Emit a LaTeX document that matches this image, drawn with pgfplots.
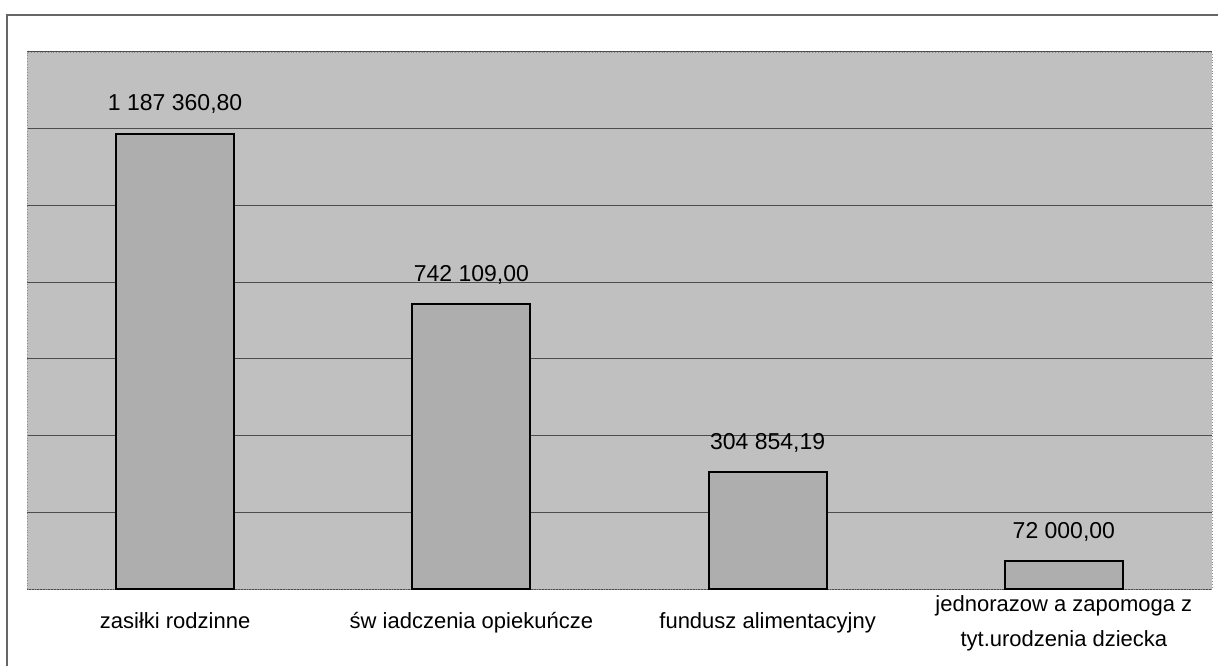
\documentclass[border=0pt]{standalone}
\usepackage{fontspec}
\setmainfont{Liberation Sans}
\usepackage{pgfplots}
\pgfplotsset{compat=1.18}
\definecolor{bg}{RGB}{192,192,192}
\definecolor{barc}{RGB}{174,174,174}
\newcommand{\ph}{\vphantom{śpjŚ}}
\begin{document}
\begin{tikzpicture}
\path[use as bounding box] (0,0) rectangle (609bp,333bp);
\draw[black!60, line width=0.6bp] (3.5bp,0) -- (3.5bp,325.5bp) -- (609bp,325.5bp);
\begin{axis}[
  at={(13.5bp,38.5bp)}, anchor=south west,
  scale only axis, width=592.5bp, height=268.5bp,
  xmin=-0.5, xmax=3.5, ymin=0, ymax=1400000,
  scaled y ticks=false,
  ytick={0,200000,400000,600000,800000,1000000,1200000,1400000},
  yticklabels={},
  ymajorgrids, grid style={black!70, line width=0.5bp},
  xtick={0,1,2,3},
  xticklabels={\ph zasiłki rodzinne, \ph św iadczenia opiekuńcze, \ph fundusz alimentacyjny, {\ph jednorazow a zapomoga z\\\ph tyt.urodzenia dziecka}},
  major tick length=0,
  axis background/.style={fill=bg},
  axis line style={draw=black!45, densely dotted},
  xticklabel style={font=\fontsize{11bp}{17.5bp}\selectfont, align=center, anchor=center, yshift=-16bp},
  clip=false,
]
\addplot[ybar, bar width=59bp, fill=barc, draw=black, line width=1bp,
  point meta=explicit symbolic, nodes near coords,
  nodes near coords style={font=\fontsize{11.5bp}{13bp}\selectfont, anchor=south, yshift=6bp, text=black}]
  coordinates {
    (0,1187360.80) [1 187 360,80]
    (1,742109.00) [742 109,00]
    (2,304854.19) [304 854,19]
    (3,72000.00) [72 000,00]
  };
\end{axis}
\end{tikzpicture}
\end{document}
